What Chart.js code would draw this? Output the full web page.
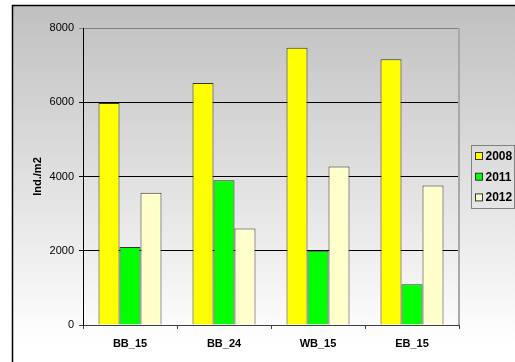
<!DOCTYPE html>
<html>
<head>
<meta charset="utf-8">
<script src="https://cdn.jsdelivr.net/npm/chart.js@4"></script>
<style>
  html, body { margin: 0; padding: 0; background: #ffffff; }
  #wrap { width: 515px; height: 362px; }
</style>
</head>
<body>
<div id="wrap"><canvas id="chart" width="515" height="362"></canvas></div>
<script>
// Sampling sites and densities per year (individuals per m2)
const categories = ['BB_15', 'BB_24', 'WB_15', 'EB_15'];
const seriesLabels = ['2008', '2011', '2012'];
const values2008 = [5980, 6520, 7470, 7160];
const values2011 = [2100, 3900, 2000, 1100];
const values2012 = [3560, 2600, 4270, 3760];
const yTickValues = [0, 2000, 4000, 6000, 8000];
const yTitle = 'Ind./m2';

const seriesColors = ['#FFFF00', '#00FF00', '#FFFFCC'];

// Frame with grey-to-white vertical gradient behind everything
const framePlugin = {
  id: 'frame',
  beforeDraw(chart) {
    const ctx = chart.ctx;
    const W = chart.width, H = chart.height;
    ctx.save();
    ctx.fillStyle = '#ffffff';
    ctx.fillRect(0, 0, W, H);
    const g = ctx.createLinearGradient(0, 5, 0, H);
    g.addColorStop(0, '#c0c0c0');
    g.addColorStop(0.95, '#ffffff');
    g.addColorStop(1, '#ffffff');
    ctx.fillStyle = g;
    ctx.fillRect(12, 5, W - 12, H - 5);
    ctx.strokeStyle = '#000000';
    ctx.lineWidth = 1.5;
    ctx.beginPath();
    ctx.moveTo(12.5, H + 2);
    ctx.lineTo(12.5, 5.5);
    ctx.lineTo(W + 2, 5.5);
    ctx.stroke();
    ctx.restore();
  },
  afterDatasetsDraw(chart) {
    const ctx = chart.ctx;
    const a = chart.chartArea;
    ctx.save();
    ctx.strokeStyle = '#a8a8a8';
    ctx.lineWidth = 2;
    ctx.beginPath();
    ctx.moveTo(a.right, a.top);
    ctx.lineTo(a.right, a.bottom);
    ctx.stroke();
    ctx.restore();
  }
};

// Boxed legend on the right
const boxLegendPlugin = {
  id: 'boxLegend',
  afterDraw(chart) {
    const ctx = chart.ctx;
    const x0 = 471, y0 = 145, w = 43, h = 63;
    ctx.save();
    ctx.strokeStyle = '#808080';
    ctx.lineWidth = 1;
    ctx.strokeRect(x0 + 0.5, y0 + 0.5, w, h);
    ctx.font = 'bold 12px "Liberation Sans", Arial, sans-serif';
    ctx.textBaseline = 'middle';
    ctx.textAlign = 'left';
    chart.data.datasets.forEach((ds, i) => {
      const cy = 156 + i * 20.7;
      ctx.fillStyle = ds.backgroundColor;
      ctx.fillRect(475.5, cy - 3.5, 7, 7);
      ctx.strokeStyle = '#333333';
      ctx.strokeRect(475.5, cy - 3.5, 7, 7);
      ctx.fillStyle = '#000000';
      ctx.fillText(ds.label, 485.5, cy + 0.5);
    });
    ctx.restore();
  }
};

const datasets = [values2008, values2011, values2012].map((vals, i) => ({
  label: seriesLabels[i],
  data: vals,
  backgroundColor: seriesColors[i],
  borderColor: '#333333',
  borderWidth: 1,
  categoryPercentage: 0.67,
  barPercentage: 1.0
}));

new Chart(document.getElementById('chart'), {
  type: 'bar',
  data: { labels: categories, datasets },
  options: {
    responsive: false,
    animation: false,
    devicePixelRatio: 1,
    layout: { padding: { left: 0, top: 28, right: 56, bottom: 0 } },
    plugins: {
      legend: { display: false },
      tooltip: { enabled: false }
    },
    scales: {
      x: {
        afterFit(scale) { scale.height = 37; },
        grid: {
          display: true,
          drawOnChartArea: false,
          drawTicks: true,
          tickLength: 4,
          color: '#404040',
          offset: true
        },
        border: { display: true, color: '#404040', width: 1 },
        ticks: {
          color: '#000000',
          padding: 8,
          font: { family: '"Liberation Sans", Arial, sans-serif', size: 11, weight: 'bold' }
        }
      },
      y: {
        min: 0,
        max: 8000,
        afterFit(scale) { scale.width = 83; },
        afterBuildTicks(scale) { scale.ticks = yTickValues.map(v => ({ value: v })); },
        grid: {
          color(c) {
            if (c.tick && c.tick.value === 8000) return '#808080';
            if (c.tick && c.tick.value === 0) return '#404040';
            return '#000000';
          },
          lineWidth: 1,
          tickLength: 4
        },
        border: { display: true, color: '#000000', width: 1 },
        ticks: {
          color: '#000000',
          padding: 5,
          callback: (v) => String(v),
          font: { family: '"Liberation Sans", Arial, sans-serif', size: 11 }
        },
        title: {
          display: true,
          text: yTitle,
          color: '#000000',
          padding: { top: 31, bottom: 0 },
          font: { family: '"Liberation Sans", Arial, sans-serif', size: 11, weight: 'bold' }
        }
      }
    }
  },
  plugins: [framePlugin, boxLegendPlugin]
});
</script>
</body>
</html>
